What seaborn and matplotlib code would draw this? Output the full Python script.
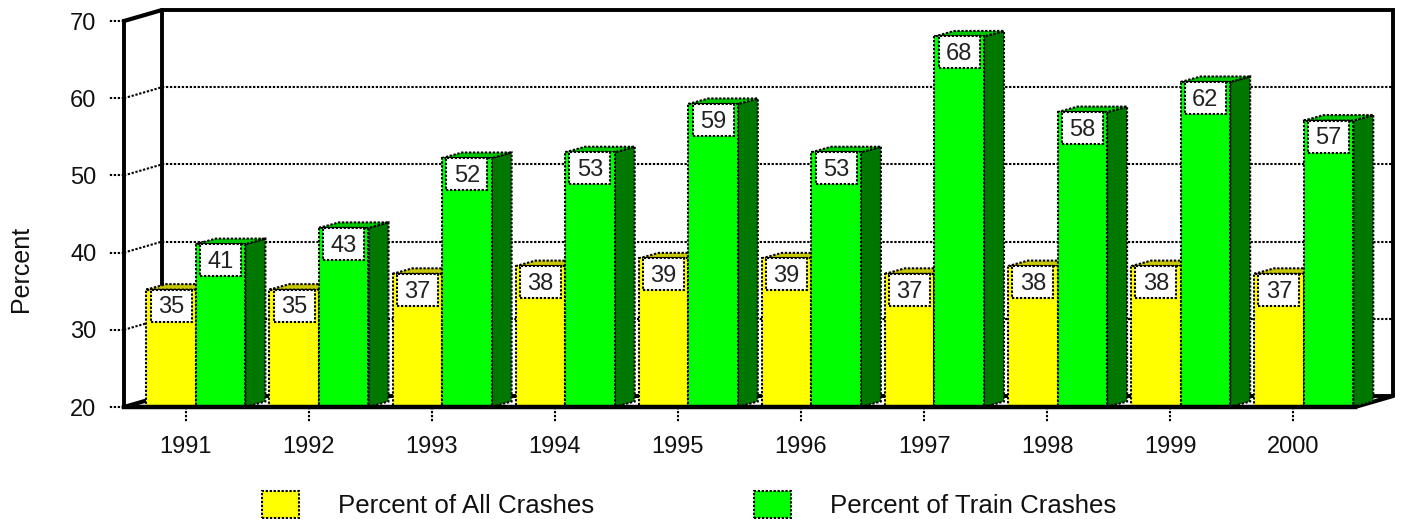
import matplotlib
matplotlib.use("Agg")
import matplotlib.pyplot as plt
import matplotlib.transforms as mtrans
from matplotlib.patches import Polygon, Rectangle
import pandas as pd
import seaborn as sns

years = ["1991", "1992", "1993", "1994", "1995", "1996", "1997", "1998", "1999", "2000"]
all_crashes = [35.2, 35.2, 37.25, 38.25, 39.25, 39.25, 37.25, 38.25, 38.25, 37.25]
train_crashes = [41.1, 43.2, 52.25, 53.0, 59.25, 53.0, 68.0, 58.2, 62.1, 57.1]
all_labels = ["35", "35", "37", "38", "39", "39", "37", "38", "38", "37"]
train_labels = ["41", "43", "52", "53", "59", "53", "68", "58", "62", "57"]
series_names = ["Percent of All Crashes", "Percent of Train Crashes"]

FRONT = {series_names[0]: "#FFFF00", series_names[1]: "#00FF00"}
TOP = {series_names[0]: "#C8C800", series_names[1]: "#00C800"}
SIDE = {series_names[0]: "#787800", series_names[1]: "#007800"}

sns.set_theme(style="white")
plt.rcParams["font.family"] = ["Liberation Sans", "DejaVu Sans"]

df = pd.DataFrame({
    "Year": years * 2,
    "Percent": all_crashes + train_crashes,
    "Series": [series_names[0]] * len(years) + [series_names[1]] * len(years),
})

W, H = 1401, 519
fig = plt.figure(figsize=(W / 100, H / 100), dpi=100, facecolor="white")
L, R, T, B = 124, 1355, 21, 407
ax = fig.add_axes([L / W, (H - B) / H, (R - L) / W, (B - T) / H])
ax.patch.set_alpha(0)

sns.barplot(data=df, x="Year", y="Percent", hue="Series", order=years,
            hue_order=series_names, palette=FRONT, saturation=1, width=0.805, gap=0,
            edgecolor="black", linewidth=1.5, legend=False, ax=ax)

ax.set_xlim(-0.5, len(years) - 0.5)
ax.set_ylim(20, 70)
ax.set_yticks([20, 30, 40, 50, 60, 70])
ax.set_xlabel("")
ax.set_ylabel("Percent", fontsize=18, color="#111111")
ax.yaxis.set_label_coords((33 - L) / (R - L), (B - 269) / (B - T))

px_x = (R - L) / len(years)
px_y = (B - T) / 50.0
dotted = (0, (1.1, 0.8))

# rear wall, floor and side wall
back = ax.transData + mtrans.ScaledTranslation(38 / 100, 11 / 100, fig.dpi_scale_trans)
xl, xr = ax.get_xlim()
dx_wall, dy_wall = 38 / px_x, 11 / px_y
for v in [30, 40, 50, 60]:
    ax.plot([xl, xr], [v, v], transform=back, color="black", lw=1.5, ls=dotted,
            clip_on=False, zorder=0.6)
    ax.plot([xl, xl + dx_wall], [v, v + dy_wall], color="black", lw=1.5, ls=dotted,
            clip_on=False, zorder=0.6)
ax.plot([xl, xr, xr], [70, 70, 20], transform=back, color="black", lw=2.8,
        clip_on=False, zorder=0.7, solid_joinstyle="miter")
ax.plot([xl, xl], [70, 20], transform=back, color="black", lw=2.8, clip_on=False, zorder=0.7)
ax.plot([xl, xr], [20, 20], transform=back, color="black", lw=2.8, clip_on=False, zorder=0.7)
ax.plot([xl, xl + dx_wall], [70, 70 + dy_wall], color="black", lw=3, clip_on=False, zorder=0.7)
ax.plot([xl, xl + dx_wall], [20, 20 + dy_wall], color="black", lw=3, clip_on=False, zorder=0.7)
ax.plot([xr, xr + dx_wall], [20, 20 + dy_wall], color="black", lw=3, clip_on=False, zorder=0.7)

# extruded bars
shift = mtrans.ScaledTranslation(10.3 / 100, 0, fig.dpi_scale_trans)
bar_tr = ax.transData + shift
dx, dy = 20 / px_x, 5.5 / px_y
box_w, box_h = 41 / px_x, 32 / px_y

for s, (name, container, labels) in enumerate(zip(series_names, ax.containers,
                                                  [all_labels, train_labels])):
    for i, bar in enumerate(container):
        x0, w, v = bar.get_x(), bar.get_width(), bar.get_height()
        x1 = x0 + w
        base = 1 + i + s * 0.1
        bar.set_y(20)
        bar.set_height(v - 20)
        bar.set_transform(bar_tr)
        bar.set_linestyle(dotted)
        bar.set_zorder(base + 0.03)
        bar.set_clip_on(False)
        ax.add_patch(Polygon([(x1, 20), (x1 + dx, 20 + dy), (x1 + dx, v + dy), (x1, v)],
                             closed=True, facecolor=SIDE[name], edgecolor="black", lw=1.5,
                             ls=dotted, transform=bar_tr, zorder=base + 0.01, clip_on=False))
        ax.add_patch(Polygon([(x0, v), (x0 + dx, v + dy), (x1 + dx, v + dy), (x1, v)],
                             closed=True, facecolor=TOP[name], edgecolor="black", lw=1.5,
                             ls=dotted, transform=bar_tr, zorder=base + 0.02, clip_on=False))
        cx = x0 + w / 2
        ax.add_patch(Rectangle((cx - box_w / 2, v - box_h), box_w, box_h, facecolor="white",
                               edgecolor="black", lw=1.5, ls=dotted, transform=bar_tr,
                               zorder=base + 0.04, clip_on=False))
        ax.text(cx, v - box_h / 2 + 0.1, labels[i], ha="center", va="center_baseline", fontsize=17,
                color="#222222", transform=bar_tr, zorder=base + 0.05)

# front frame
sns.despine(ax=ax, top=True, right=True)
for sp, lw in (("left", 2.8), ("bottom", 3.2)):
    ax.spines[sp].set_visible(True)
    ax.spines[sp].set_color("black")
    ax.spines[sp].set_linewidth(lw)
    ax.spines[sp].set_zorder(30)

# real ticks keep the label offset; the dotted stubs are drawn as lines
ax.tick_params(axis="both", which="major", length=10.8, width=0, labelsize=17,
               labelcolor="#111111", left=True, bottom=True)
ax.tick_params(axis="x", pad=10)
ax.tick_params(axis="y", pad=9)
for tx in ax.get_xticks():
    ax.plot([tx, tx], [0, -15 / (B - T)], transform=ax.get_xaxis_transform(), color="black",
            lw=1.5, ls=dotted, clip_on=False, zorder=0.5)
for ty in ax.get_yticks():
    ax.plot([0, -15 / (R - L)], [ty, ty], transform=ax.get_yaxis_transform(), color="black",
            lw=1.5, ls=dotted, clip_on=False, zorder=0.5)

leg = ax.legend(handles=list(ax.containers), labels=series_names, ncol=2, frameon=False,
                fontsize=18.6, loc="lower left",
                bbox_to_anchor=(262 / W, (H - 518) / H), bbox_transform=fig.transFigure,
                borderpad=0, borderaxespad=0, handlelength=1.43, handleheight=1.22,
                handletextpad=1.53, columnspacing=6.17, labelcolor="#111111")
for h in leg.get_patches():
    h.set_linestyle(dotted)
    h.set_edgecolor("black")
    h.set_linewidth(1.5)

fig.savefig("out.png", dpi=100, facecolor="white")
